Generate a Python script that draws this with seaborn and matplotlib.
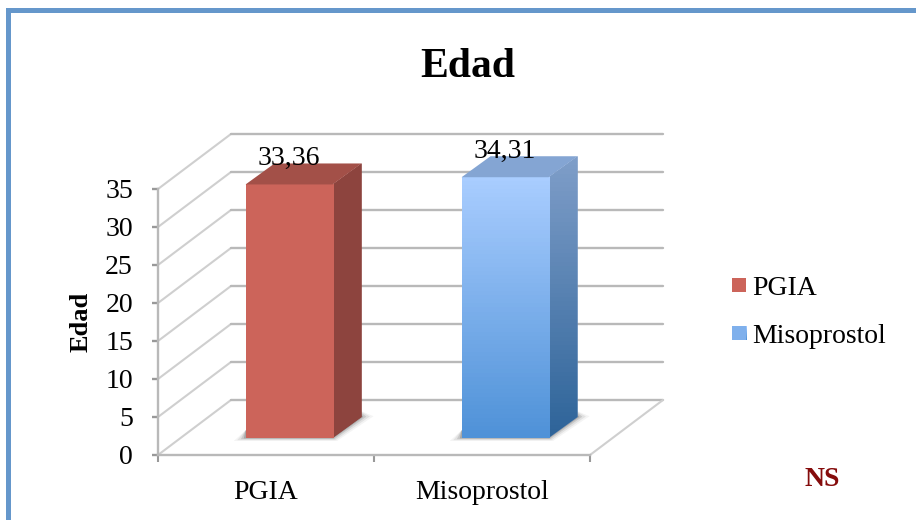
import numpy as np
import pandas as pd
import seaborn as sns
import matplotlib.pyplot as plt
from matplotlib.colors import LinearSegmentedColormap
from matplotlib.patches import Polygon, Rectangle
from matplotlib.lines import Line2D

grupos = ['PGIA', 'Misoprostol']
edades = [33.36, 34.31]
y_ticks = [0, 5, 10, 15, 20, 25, 30, 35]
titulo = 'Edad'
nota = 'NS'

W, H = 916, 520
GRIS = '#b9b9b9'
GRIS_CLARO = '#cfcfcf'

# profundidad del "3D", en unidades de datos
fondo_x, fondo_y = 0.338, 7.24
base_x, base_y = 0.107, 2.24
lado_x, lado_y = 0.134, 2.76

sns.set_theme(style='white')
plt.rcParams['font.family'] = ['Liberation Serif', 'DejaVu Serif']

datos = pd.DataFrame({'grupo': grupos, 'edad': edades})

fig = plt.figure(figsize=(W / 100, H / 100), dpi=100, facecolor='white')
ax = fig.add_axes([158 / W, (H - 455) / H, 432 / W, 266 / H])
ax.patch.set_alpha(0)

sns.barplot(data=datos, x='grupo', y='edad', hue='grupo', palette=['#cc645a', '#7fb0ec'],
            dodge=False, width=0.403, legend=False, ax=ax, zorder=3)
ax.set_xlim(-0.5, 1.5)
ax.set_ylim(0, 35)

# paredes y piso
for v in y_ticks:
    ax.plot([-0.5, -0.5 + fondo_x], [v, v + fondo_y], color=GRIS_CLARO, lw=1.5, clip_on=False, zorder=1)
    ax.plot([-0.5 + fondo_x, 1.5 + fondo_x], [v + fondo_y, v + fondo_y], color=GRIS, lw=1.7, clip_on=False, zorder=1)
ax.plot([1.5, 1.5 + fondo_x], [0, fondo_y], color=GRIS_CLARO, lw=1.5, clip_on=False, zorder=1)

caras = {
    'PGIA': {'frente': ['#cc645a', '#cc645a'], 'arriba': '#a35048', 'lado': ['#8d443e', '#8d443e']},
    'Misoprostol': {'frente': ['#a9cdff', '#4f92d8'], 'arriba': '#84a5d3', 'lado': ['#7f9ec9', '#2e6499']},
}


def degradado(eje, colores, extent, clip=None):
    c = LinearSegmentedColormap.from_list('g', colores)
    im = eje.imshow(np.linspace(0, 1, 64).reshape(-1, 1), cmap=c, extent=extent, aspect='auto', zorder=4)
    if clip is not None:
        im.set_clip_path(clip)
        im.set_clip_box(fig.bbox)
    return im


for barra, grupo, edad in zip(ax.patches[:len(grupos)], grupos, edades):
    barra.set_x(barra.get_x() + base_x)
    barra.set_y(base_y)
    barra.set_linewidth(0)
    barra.set_clip_on(False)
    x0 = barra.get_x()
    x1 = x0 + barra.get_width()
    y1 = base_y + edad
    cara = caras[grupo]

    # sombra en el piso, por capas para que quede difusa
    for extra, alfa in [(1.0, 0.06), (0.7, 0.1), (0.4, 0.16), (0.15, 0.25)]:
        ax.add_patch(Polygon([(x0 - 0.055 * extra, base_y - 0.4 * extra),
                              (x1 + 0.02 * extra, base_y - 0.4 * extra),
                              (x1 + lado_x + 0.055 * extra, base_y + lado_y + 0.1 * extra),
                              (x1 + lado_x - 0.02, base_y + lado_y + 1),
                              (x0, base_y + 1)],
                             closed=True, facecolor='#444444', alpha=alfa, edgecolor='none', zorder=2))

    lado = Polygon([(x1, base_y), (x1 + lado_x, base_y + lado_y), (x1 + lado_x, y1 + lado_y), (x1, y1)],
                   closed=True, facecolor=cara['lado'][0], edgecolor='none', zorder=3, clip_on=False)
    ax.add_patch(lado)
    degradado(ax, cara['lado'], (x1, x1 + lado_x, base_y, y1 + lado_y), lado)
    degradado(ax, cara['frente'], (x0, x1, base_y, y1), barra)
    ax.add_patch(Polygon([(x0, y1), (x1, y1), (x1 + lado_x, y1 + lado_y), (x0 + lado_x, y1 + lado_y)],
                         closed=True, facecolor=cara['arriba'], edgecolor='none', zorder=4, clip_on=False))

    ax.annotate(f'{edad:.2f}'.replace('.', ','), xy=((x0 + x1) / 2, y1), xytext=(0, 26 * 0.72),
                textcoords='offset points', ha='center', va='center', fontsize=20, color='black',
                zorder=6, annotation_clip=False)

ax.set_xlim(-0.5, 1.5)
ax.set_ylim(0, 35)

# ejes
for lado_eje in ['top', 'right']:
    ax.spines[lado_eje].set_visible(False)
for lado_eje in ['left', 'bottom']:
    ax.spines[lado_eje].set_color(GRIS)
    ax.spines[lado_eje].set_linewidth(1.7)
ax.set_yticks(y_ticks)
ax.set_xticks([0, 1])
ax.set_xticklabels(grupos)
ax.set_xticks([-0.5, 0.5, 1.5], minor=True)
ax.tick_params(axis='x', which='major', length=0, pad=18, labelsize=20, labelcolor='black')
ax.tick_params(axis='x', which='minor', length=5, width=1.5, color='#999999', bottom=True)
ax.tick_params(axis='y', length=4, width=1.7, color='#999999', pad=14, labelsize=20, labelcolor='black', left=True)
ax.set_xlabel('')
ax.set_ylabel('')

fig.text(81 / W, 1 - 322 / H, 'Edad', rotation=90, ha='center', va='center', fontsize=19, fontweight='bold', color='black')
fig.text(468 / W, 1 - 67 / H, titulo, ha='center', va='center', fontsize=30, fontweight='bold', color='black')
fig.text(822 / W, 1 - 479 / H, nota, ha='center', va='center', fontsize=20, fontweight='bold', color='#850c0c')

# leyenda
handles = [Line2D([], [], marker='s', ls='none', ms=10.5, mew=0, color=c, label=g)
           for c, g in zip(['#cc645a', '#7fb0ec'], grupos)]
leyenda = fig.legend(handles=handles, loc='center left', bbox_to_anchor=(729.5 / W, 1 - 312 / H), frameon=False,
                     fontsize=20, labelspacing=0.8, handlelength=0.7, handletextpad=0.12, borderpad=0,
                     borderaxespad=0, labelcolor='black')

# degradado del cuadro de Misoprostol (solo el cuadro, no todo el handle)
fig.canvas.draw()
caja = leyenda.legend_handles[1].get_window_extent()
cx = (caja.x0 + caja.x1) / 2
cy = (caja.y0 + caja.y1) / 2
ax_cuadro = fig.add_axes([(cx - 7.3) / W, (cy - 7.3) / H, 14.6 / W, 14.6 / H])
degradado(ax_cuadro, caras['Misoprostol']['frente'], (0, 1, 0, 1))
ax_cuadro.axis('off')

# marco
fig.add_artist(Rectangle((6 / W, 0), 5 / W, 1 - 8 / H, transform=fig.transFigure, facecolor='#6597cb', edgecolor='none'))
fig.add_artist(Rectangle((6 / W, 1 - 13 / H), 1 - 6 / W, 5 / H, transform=fig.transFigure, facecolor='#6597cb', edgecolor='none'))

fig.savefig('out.png', dpi=100)
